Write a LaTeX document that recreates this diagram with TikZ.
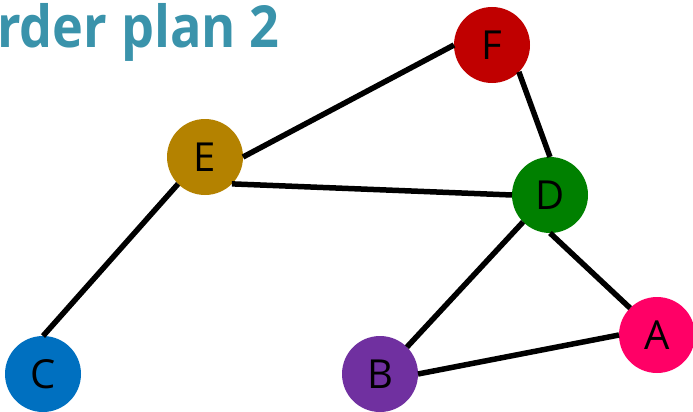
\documentclass[tikz,border=0pt]{standalone}
\usepackage{fontspec}
\setmainfont{Open Sans}
\usepackage{tikz}
\usetikzlibrary{arrows,automata}

\definecolor{titleblue}{HTML}{3A93AB}
\definecolor{cred}{HTML}{C00000}
\definecolor{cgold}{HTML}{B48200}
\definecolor{cgreen}{HTML}{008000}
\definecolor{cpink}{HTML}{FF0066}
\definecolor{cpurple}{HTML}{7030A0}
\definecolor{cblue}{HTML}{0070C0}

\begin{document}
\begin{tikzpicture}[x=1pt,y=-1pt,line width=5.5pt]
  \tikzstyle{every state}=[draw=none,text=black,minimum size=76pt,inner sep=0pt,
                           outer sep=0pt,font=\fontsize{40}{40}\selectfont]
  \useasboundingbox (0,0) rectangle (693,412);
  \clip (0,0) rectangle (693,412);

  \node[anchor=base east,text=titleblue,font=\fontsize{58}{58}\selectfont\bfseries,
        inner sep=0pt] (title) at (282,48) {\scalebox{0.9}[1]{rder plan 2}};

  \node[state,fill=cred]    (F) at (492,45)  {F};
  \node[state,fill=cgold]   (E) at (205,157) {E};
  \node[state,fill=cgreen]  (D) at (550,195) {D};
  \node[state,fill=cpink]   (A) at (657,335) {A};
  \node[state,fill=cpurple] (B) at (380,374) {B};
  \node[state,fill=cblue]   (C) at (43,374)  {C};

  \path (E.east)       edge (F.west)
        (F.south east) edge (D.north)
        (E.south east) edge (D.west)
        (E.south west) edge (C.north)
        (D.south west) edge (B.north east)
        (D.south)      edge (A.north west)
        (B.east)       edge (A.west);
\end{tikzpicture}
\end{document}
